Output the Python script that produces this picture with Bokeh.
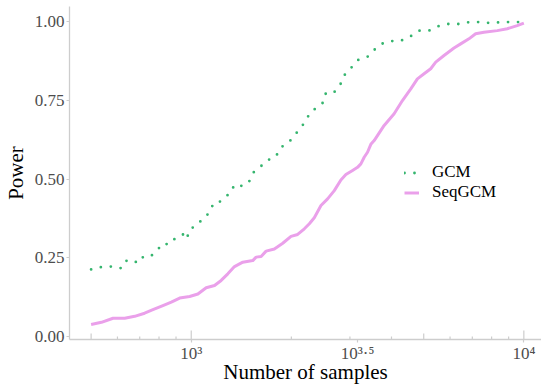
from bokeh.plotting import figure
from bokeh.models import Range1d, FixedTicker
from bokeh.embed import file_html
from bokeh.resources import INLINE

# ---------------- data ----------------
n_gcm = [500, 531, 565, 593, 614, 631, 661, 692, 716, 750, 785, 822, 857, 902, 944, 966,
         995, 1047, 1089, 1130, 1167, 1211, 1265, 1309, 1349, 1422, 1486, 1535, 1622, 1687,
         1791, 1862, 1958, 2051, 2124, 2213, 2280, 2382, 2500, 2541, 2692, 2799, 2884, 3020,
         3177, 3388, 3532, 3733, 3981, 4246, 4550, 4842, 5188, 5534, 5929, 6383, 6839, 7379,
         7943, 8551, 9226, 10000]
power_gcm = [0.213, 0.220, 0.222, 0.222, 0.217, 0.239, 0.244, 0.233, 0.252, 0.252, 0.270, 0.296,
             0.292, 0.315, 0.324, 0.308, 0.342, 0.355, 0.379, 0.390, 0.423, 0.425, 0.445, 0.453,
             0.482, 0.478, 0.487, 0.520, 0.541, 0.559, 0.569, 0.601, 0.614, 0.641, 0.659, 0.686,
             0.712, 0.726, 0.744, 0.774, 0.776, 0.797, 0.829, 0.852, 0.878, 0.888, 0.908, 0.929,
             0.938, 0.938, 0.952, 0.971, 0.971, 0.985, 0.992, 0.992, 0.998, 0.998, 0.995, 0.998,
             0.998, 0.998]

n_seq = [500, 537, 582, 631, 676, 724, 767, 822, 871, 923, 989, 1047, 1109, 1175, 1230, 1288,
         1349, 1429, 1531, 1567, 1622, 1679, 1778, 1884, 1995, 2089, 2188, 2265, 2344, 2455,
         2570, 2692, 2818, 2917, 3055, 3162, 3236, 3311, 3388, 3467, 3548, 3802, 4074, 4315,
         4571, 4786, 5012, 5248, 5433, 5754, 6166, 6457, 6839, 7161, 7586, 8318, 8913, 9550,
         10000]
power_seq = [0.038, 0.045, 0.058, 0.058, 0.064, 0.074, 0.085, 0.098, 0.109, 0.122, 0.127, 0.135,
             0.155, 0.162, 0.178, 0.199, 0.222, 0.236, 0.241, 0.252, 0.254, 0.271, 0.278, 0.296,
             0.318, 0.324, 0.342, 0.358, 0.377, 0.416, 0.437, 0.463, 0.497, 0.514, 0.527, 0.537,
             0.548, 0.569, 0.585, 0.610, 0.622, 0.670, 0.707, 0.749, 0.786, 0.818, 0.834, 0.850,
             0.871, 0.892, 0.916, 0.929, 0.945, 0.961, 0.966, 0.971, 0.977, 0.987, 0.995]

series_names = ["GCM", "SeqGCM"]

y_ticks = [0.0, 0.25, 0.5, 0.75, 1.0]
y_tick_labels = ["0.00", "0.25", "0.50", "0.75", "1.00"]

x_major_ticks = [1000, 10 ** 3.5, 10000]
x_tick_labels = ["10\u00b3", "10\u00b3\u00b7\u2075", "10\u2074"]   # 10^3, 10^3.5, 10^4

logtick_long = [1000, 10000]
logtick_mid = [500, 5000]
logtick_short = [600, 700, 800, 900, 2000, 3000, 4000, 6000, 7000, 8000, 9000]

# ---------------- styling ----------------
SERIF = "Liberation Serif"
GREEN = "#35B56E"
PINK = "#EAA0EA"
AXIS = "#cdcdcd"
TICKTXT = "#4d4d4d"

W, H = 541, 386
B_LEFT, B_RIGHT, B_TOP, B_BOTTOM = 68, 0, 6, 47
FRAME_H = H - B_TOP - B_BOTTOM

p = figure(width=W, height=H, x_axis_type="log", output_backend="svg", toolbar_location=None,
           x_range=Range1d(430.5, 11300), y_range=Range1d(-0.0095, 1.0476),
           min_border_left=B_LEFT, min_border_right=B_RIGHT,
           min_border_top=B_TOP, min_border_bottom=B_BOTTOM)
p.outline_line_color = None
p.grid.grid_line_color = None
p.background_fill_color = "white"
p.border_fill_color = "white"

# lines
p.line(n_gcm, power_gcm, line_color=GREEN, line_width=2.8, line_dash="0 10",
       line_cap="round", legend_label=series_names[0])
p.line(n_seq, power_seq, line_color=PINK, line_width=3, line_join="round",
       legend_label=series_names[1])

# y axis
ya = p.yaxis[0]
ya.ticker = FixedTicker(ticks=y_ticks, minor_ticks=[])
ya.major_label_overrides = {t: s for t, s in zip(y_ticks, y_tick_labels)}
ya.axis_line_color = AXIS
ya.axis_line_width = 1.3
ya.major_tick_line_color = AXIS
ya.major_tick_line_width = 1.2
ya.major_tick_out = 3
ya.major_tick_in = 0
ya.minor_tick_line_color = None
ya.major_label_standoff = 2
ya.major_label_text_font = SERIF
ya.major_label_text_font_size = "17px"
ya.major_label_text_color = TICKTXT
ya.axis_label = "Power"
ya.axis_label_text_font = SERIF
ya.axis_label_text_font_size = "21px"
ya.axis_label_text_font_style = "normal"
ya.axis_label_text_color = "black"
ya.axis_label_standoff = 4

# x axis
xa = p.xaxis[0]
xa.ticker = FixedTicker(ticks=x_major_ticks, minor_ticks=[])
xa.major_label_overrides = {t: s for t, s in zip(x_major_ticks, x_tick_labels)}
xa.major_label_text_font = SERIF
xa.major_label_text_font_size = "17px"
xa.major_label_text_color = TICKTXT
xa.axis_line_color = AXIS
xa.axis_line_width = 1.3
xa.major_tick_line_color = AXIS
xa.major_tick_line_width = 1.2
xa.major_tick_out = 3
xa.major_tick_in = 0
xa.minor_tick_line_color = None
xa.major_label_standoff = 1
xa.axis_label = "Number of samples"
xa.axis_label_text_font = SERIF
xa.axis_label_text_font_size = "21px"
xa.axis_label_text_font_style = "normal"
xa.axis_label_text_color = "black"
xa.axis_label_standoff = -6

# log ticks drawn inside the panel along the bottom
p.extra_y_ranges = {"px": Range1d(0, FRAME_H)}
lt_x = logtick_long + logtick_mid + logtick_short
lt_len = [9] * len(logtick_long) + [6] * len(logtick_mid) + [3] * len(logtick_short)
p.segment(x0=lt_x, y0=[0] * len(lt_x), x1=lt_x, y1=lt_len, y_range_name="px",
          line_color=AXIS, line_width=1.2)

# legend
lg = p.legend[0]
lg.location = (335, 137)
lg.label_text_font = SERIF
lg.label_text_font_size = "17px"
lg.label_text_color = "black"
lg.glyph_width = 15
lg.glyph_height = 17
lg.label_height = 17
lg.spacing = 0
lg.padding = 0
lg.margin = 0
lg.label_standoff = 13
lg.background_fill_alpha = 0
lg.border_line_color = None

open("out.html", "w").write(file_html(p, INLINE))
